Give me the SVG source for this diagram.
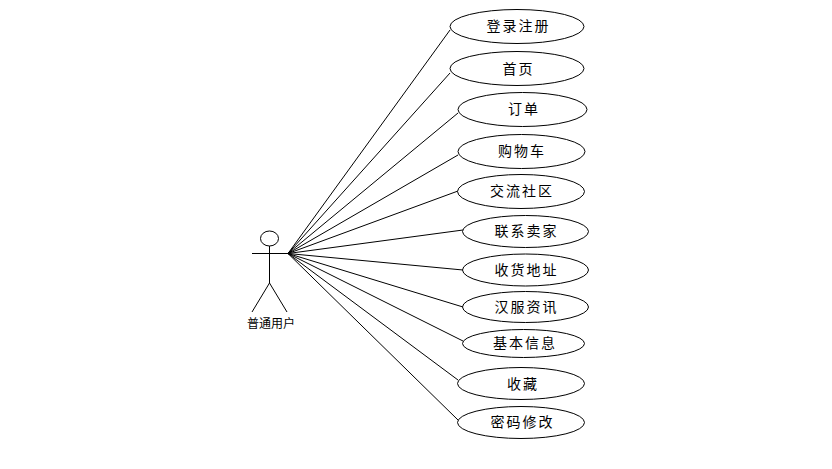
<svg xmlns="http://www.w3.org/2000/svg" width="832" height="469" viewBox="0 0 832 469">
<style>
.s{fill:none;stroke:#000;stroke-width:1}
.u{fill:#fff;stroke:#000;stroke-width:1}
text{font-family:"Noto Sans CJK SC","Liberation Sans",sans-serif;fill:#000;text-anchor:middle}
.t{font-size:14px;letter-spacing:2px}
.a{font-size:12px}
</style>
<rect width="832" height="469" fill="#fff"/>
<g id="connectors" class="s">
<path d="M288 253.500L450 30"/>
<path d="M288 253.500L450 73"/>
<path d="M288 253.500L458 113"/>
<path d="M288 253.500L458 155"/>
<path d="M288 253.500L458 191"/>
<path d="M288 253.500L463 230"/>
<path d="M288 253.500L463 270"/>
<path d="M288 253.500L463 307"/>
<path d="M288 253.500L463 341"/>
<path d="M288 253.500L458 380"/>
<path d="M288 253.500L458 420"/>
</g>
<g id="actor">
<ellipse class="s" cx="269.500" cy="238.500" rx="9" ry="7.500"/>
<path class="s" d="M269.500 246V283M252 253.500H288M269.500 283L252 312M269.500 283L287 312"/>
<text class="a" x="271" y="328">普通用户</text>
</g>
<g id="n1"><ellipse class="u" cx="517" cy="26.500" rx="67" ry="17"/><text class="t" x="518.500" y="31">登录注册</text></g>
<g id="n2"><ellipse class="u" cx="517" cy="68.500" rx="67" ry="17"/><text class="t" x="518.500" y="74">首页</text></g>
<g id="n3"><ellipse class="u" cx="522.500" cy="109.500" rx="64.500" ry="17"/><text class="t" x="524" y="114">订单</text></g>
<g id="n4"><ellipse class="u" cx="521.500" cy="151.500" rx="63.500" ry="17"/><text class="t" x="522" y="156">购物车</text></g>
<g id="n5"><ellipse class="u" cx="521" cy="191.500" rx="63.500" ry="17"/><text class="t" x="522" y="196">交流社区</text></g>
<g id="n6"><ellipse class="u" cx="525.500" cy="231.500" rx="63" ry="16"/><text class="t" x="526.500" y="236">联系卖家</text></g>
<g id="n7"><ellipse class="u" cx="525.500" cy="270" rx="63" ry="16"/><text class="t" x="526.500" y="275">收货地址</text></g>
<g id="n8"><ellipse class="u" cx="525.500" cy="307" rx="63" ry="15.500"/><text class="t" x="526.500" y="312">汉服资讯</text></g>
<g id="n9"><ellipse class="u" cx="523.500" cy="343.500" rx="61" ry="14"/><text class="t" x="525" y="348">基本信息</text></g>
<g id="n10"><ellipse class="u" cx="521" cy="383.500" rx="63.500" ry="16"/><text class="t" x="523" y="389">收藏</text></g>
<g id="n11"><ellipse class="u" cx="521" cy="422.500" rx="63.500" ry="16"/><text class="t" x="522.500" y="427">密码修改</text></g>
</svg>
